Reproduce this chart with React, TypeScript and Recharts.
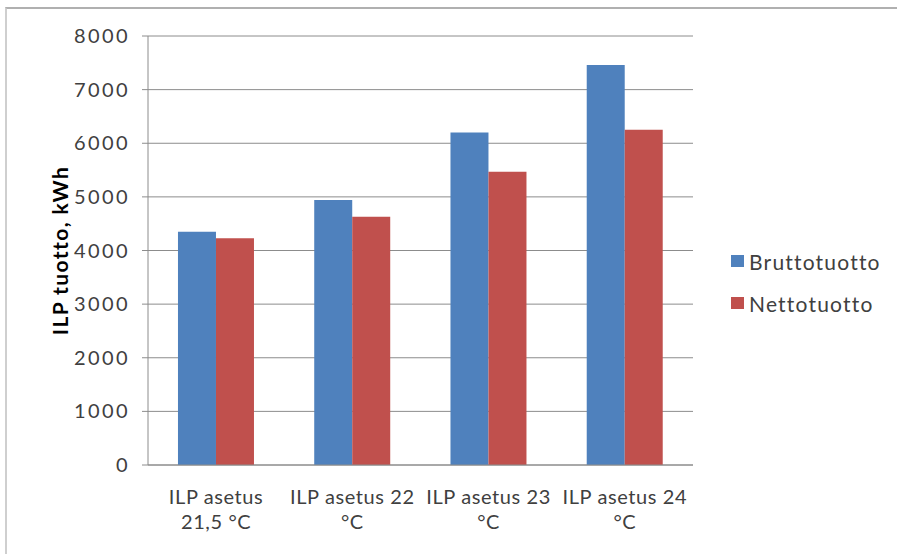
import React from "react";
import { BarChart, Bar, XAxis, YAxis, CartesianGrid, Legend } from "recharts";

const categories = ["ILP asetus 21,5 °C", "ILP asetus 22 °C", "ILP asetus 23 °C", "ILP asetus 24 °C"];
const tickLabelLines = [
  ["ILP asetus", "21,5 °C"],
  ["ILP asetus 22", "°C"],
  ["ILP asetus 23", "°C"],
  ["ILP asetus 24", "°C"],
];
const bruttotuotto = [4350, 4940, 6200, 7460];
const nettotuotto = [4230, 4630, 5470, 6250];
const yTicks = [0, 1000, 2000, 3000, 4000, 5000, 6000, 7000, 8000];
const boundaryTicks = [0, 1, 2, 3, 4];

const seriesNames = { brutto: "Bruttotuotto", netto: "Nettotuotto" };
const BLUE = "#4F81BD";
const RED = "#C0504D";
const FONT = "Lato, 'Open Sans', sans-serif";
const TEXT = "#404040";

const data = categories.map((c, i) => ({
  name: c,
  brutto: bruttotuotto[i],
  netto: nettotuotto[i],
}));

const XTick = (props: any) => {
  const { x, y, payload } = props;
  const idx = categories.indexOf(payload.value);
  const lines = tickLabelLines[idx] || [payload.value];
  return (
    <text x={x} y={y} textAnchor="middle" fill={TEXT} fontSize={20} fontFamily={FONT} style={{ letterSpacing: "0.6px" }}>
      {lines.map((l, i) => (
        <tspan key={i} x={x} dy={i === 0 ? 31 : 25}>
          {l}
        </tspan>
      ))}
    </text>
  );
};

const YTick = (props: any) => {
  const { x, y, payload } = props;
  return (
    <text x={x} y={y} dy={7} textAnchor="end" fill={TEXT} fontSize={20} fontFamily={FONT} style={{ letterSpacing: "2.4px" }}>
      {payload.value}
    </text>
  );
};

const LegendContent = () => (
  <div style={{ fontFamily: FONT, fontSize: 21, color: TEXT, letterSpacing: "1.2px" }}>
    {[
      { label: seriesNames.brutto, color: BLUE },
      { label: seriesNames.netto, color: RED },
    ].map((it, i) => (
      <div key={i} style={{ display: "flex", alignItems: "center", height: 24, marginBottom: i === 0 ? 18 : 0 }}>
        <span style={{ display: "inline-block", width: 13, height: 12, background: it.color, marginRight: 5 }} />
        <span>{it.label}</span>
      </div>
    ))}
  </div>
);

export default function App() {
  return (
    <div style={{ position: "absolute", left: 0, top: 0, width: 897, height: 554, background: "#fff", overflow: "hidden" }}>
      <div
        style={{
          position: "absolute",
          left: 5,
          top: 7,
          width: 900,
          height: 560,
          borderTop: "2px solid #b0b0b0",
          borderLeft: "2px solid #cfcfcf",
          boxSizing: "border-box",
        }}
      />
      <div style={{ position: "absolute", left: 0, top: 0 }}>
        <BarChart
          width={897}
          height={554}
          data={data}
          margin={{ top: 36, right: 204, bottom: 0, left: 0 }}
          barCategoryGap="22%"
          barGap={0}
        >
          <CartesianGrid vertical={false} stroke="#8c8c8c" strokeWidth={1} />
          <XAxis
            xAxisId="cat"
            dataKey="name"
            height={89}
            axisLine={{ stroke: "#8c8c8c" }}
            tickLine={false}
            tick={<XTick />}
            interval={0}
          />
          <XAxis
            xAxisId="edge"
            type="number"
            domain={[0, 4]}
            ticks={boundaryTicks}
            height={0}
            axisLine={false}
            tickLine={{ stroke: "#8c8c8c" }}
            tickSize={6}
            tick={false}
            orientation="bottom"
          />
          <YAxis
            width={148}
            domain={[0, 8000]}
            ticks={yTicks}
            interval={0}
            axisLine={{ stroke: "#8c8c8c" }}
            tickLine={{ stroke: "#8c8c8c" }}
            tickSize={6}
            tickMargin={12}
            tick={<YTick />}
            label={{
              value: "ILP tuotto, kWh",
              angle: -90,
              position: "insideLeft",
              offset: 61,
              style: {
                fill: "#000",
                fontSize: 21,
                fontWeight: "bold",
                fontFamily: FONT,
                textAnchor: "middle",
                letterSpacing: "1.4px",
              },
            }}
          />
          <Legend
            layout="horizontal"
            verticalAlign="middle"
            align="center"
            content={<LegendContent />}
            wrapperStyle={{ position: "absolute", left: 731, top: 249, width: 166 }}
          />
          <Bar xAxisId="cat" dataKey="brutto" name={seriesNames.brutto} fill={BLUE} isAnimationActive={false} />
          <Bar xAxisId="cat" dataKey="netto" name={seriesNames.netto} fill={RED} isAnimationActive={false} />
        </BarChart>
      </div>
    </div>
  );
}
